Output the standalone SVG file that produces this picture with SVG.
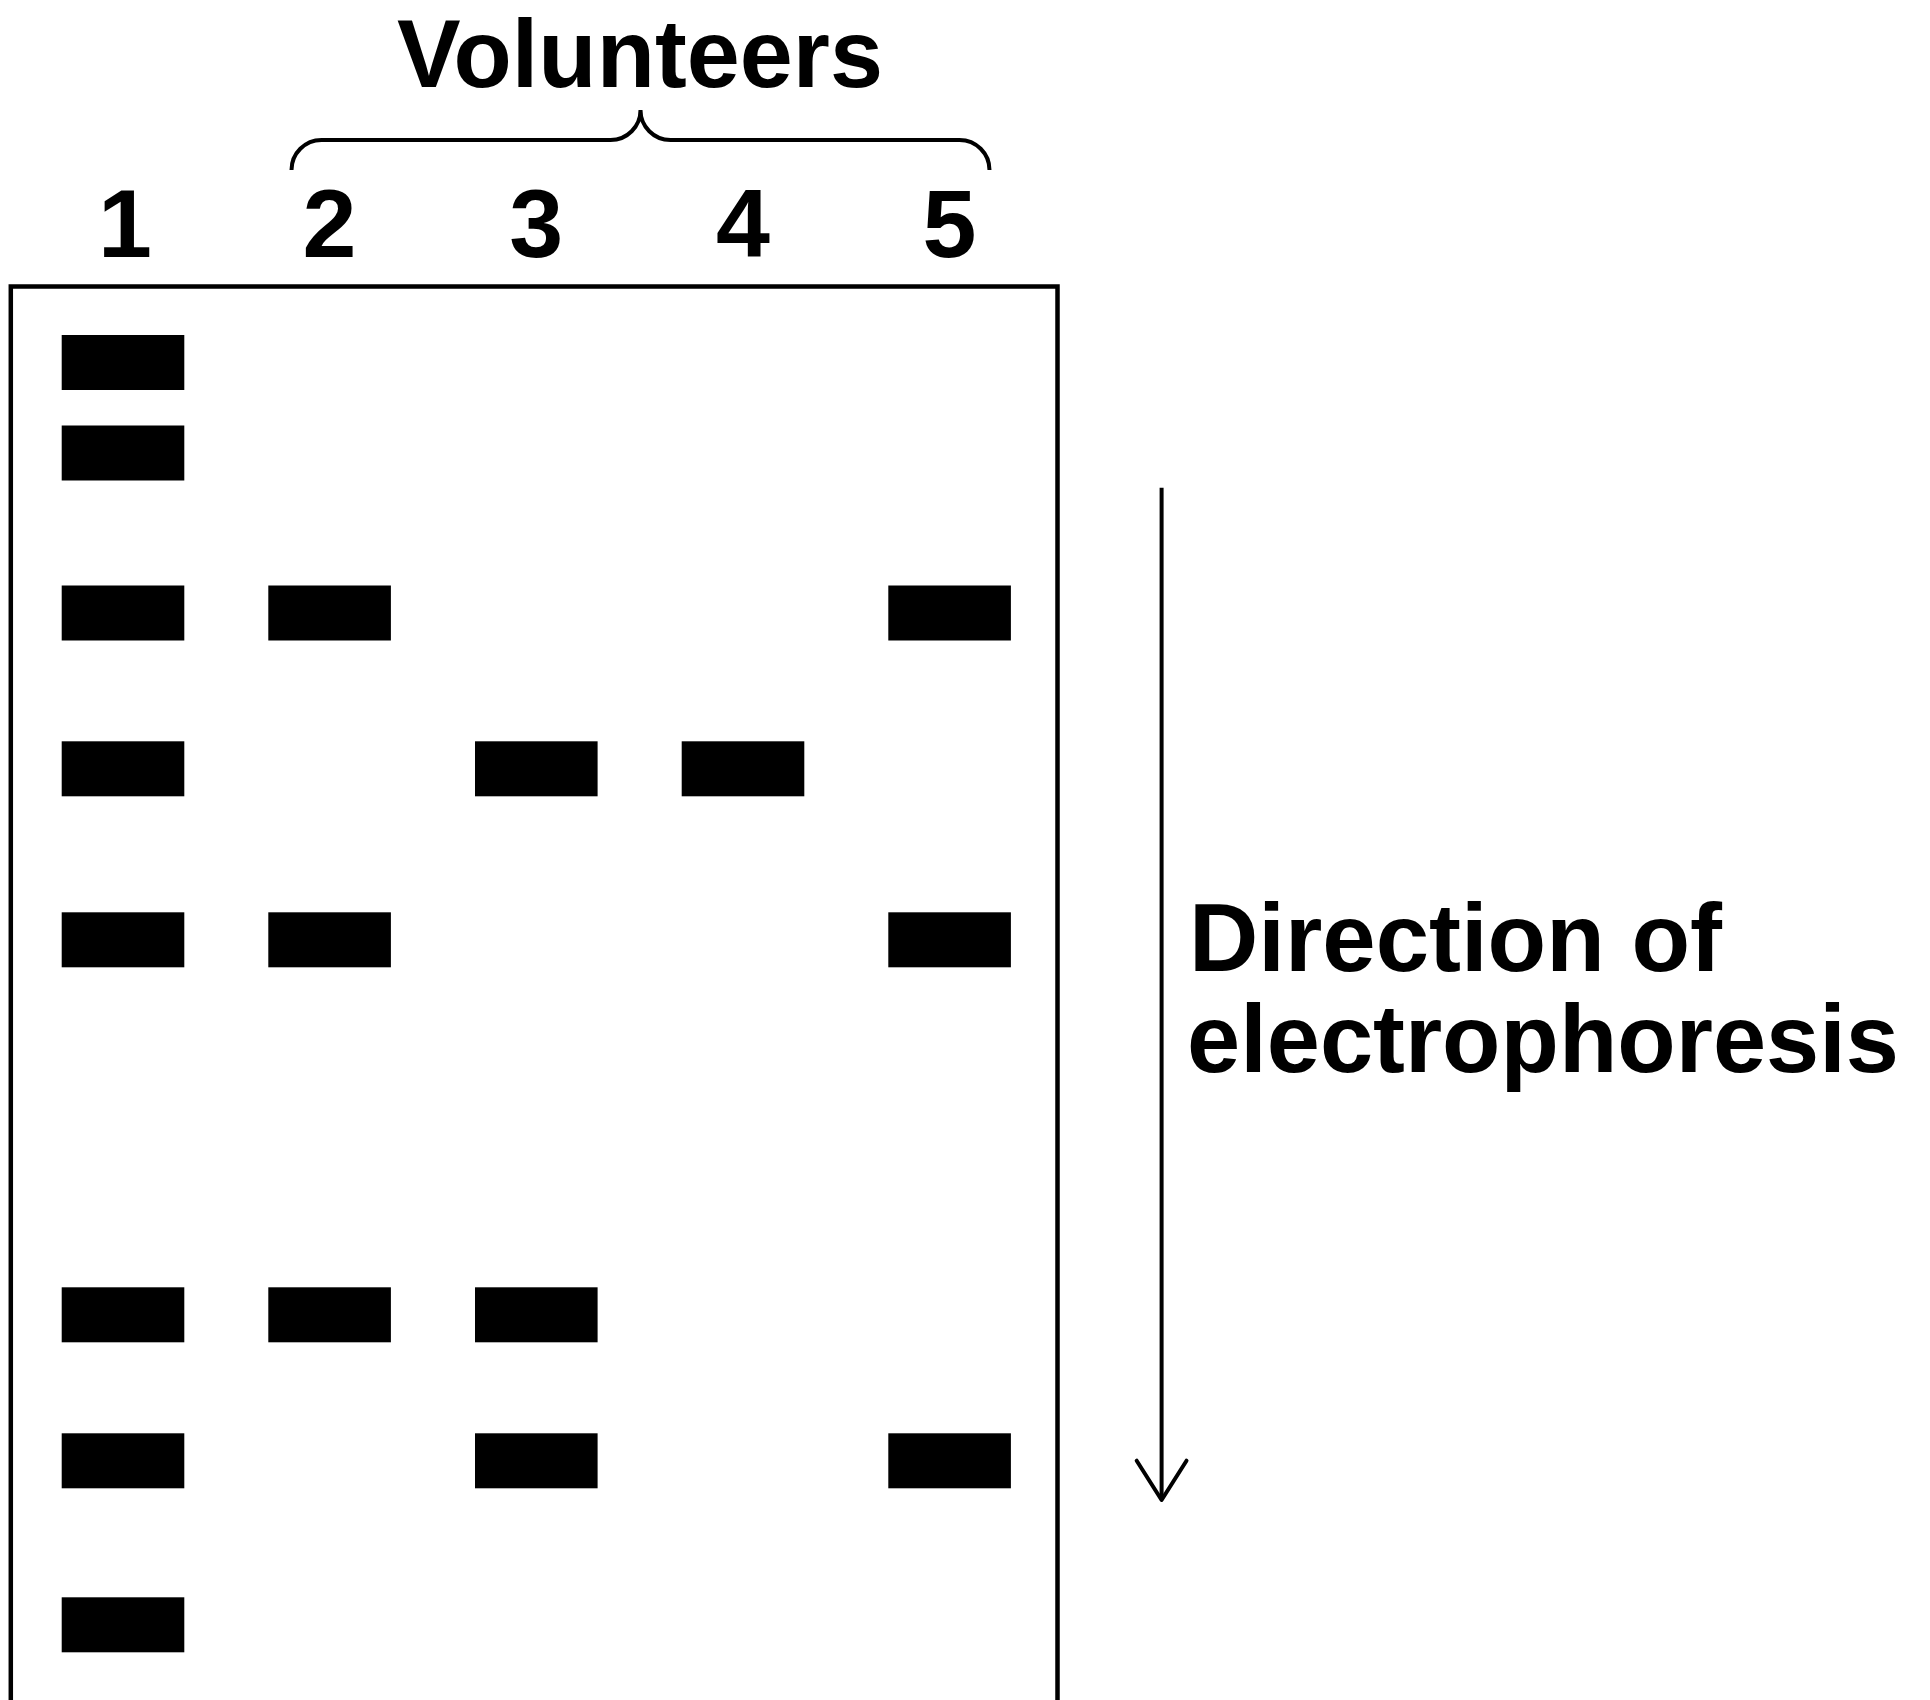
<svg xmlns="http://www.w3.org/2000/svg" width="1930" height="1700" viewBox="0 0 1930 1700">
  <style>
    .lbl { font-family: "Liberation Sans", Arial, Helvetica, sans-serif; font-weight: bold; font-size: 97px; fill: #000; }
    .band { fill: #000; }
    .ink { fill: none; stroke: #000; }
  </style>
  <rect x="0" y="0" width="1930" height="1700" fill="#fff"/>

  <!-- heading and bracket over lanes 2-5 -->
  <g id="volunteers">
    <text class="lbl" x="640" y="87.3" text-anchor="middle" textLength="486" lengthAdjust="spacingAndGlyphs">Volunteers</text>
    <path class="ink" stroke-width="4" d="M291.5,170 A30,30 0 0 1 321.5,140 H610.5 A30,30 0 0 0 640.5,110 A30,30 0 0 0 670.5,140 H959.5 A30,30 0 0 1 989.5,170"/>
  </g>

  <!-- lane numbers -->
  <g id="lane-labels">
    <text class="lbl" x="125" y="257.3" text-anchor="middle">1</text>
    <text class="lbl" x="329.6" y="257.3" text-anchor="middle">2</text>
    <text class="lbl" x="536.3" y="257.3" text-anchor="middle">3</text>
    <text class="lbl" x="743" y="257.3" text-anchor="middle">4</text>
    <text class="lbl" x="949.6" y="257.3" text-anchor="middle">5</text>
  </g>

  <!-- gel outline (open at the bottom edge) -->
  <g id="gel">
    <path class="ink" stroke-width="4.5" d="M10.8,1710 V286.5 H1057.5 V1710"/>
  </g>

  <!-- lane 1: reference ladder -->
  <g id="lane-1">
    <rect class="band" x="61.7" y="335" width="122.6" height="55"/>
    <rect class="band" x="61.7" y="425.5" width="122.6" height="55"/>
    <rect class="band" x="61.7" y="585.5" width="122.6" height="55"/>
    <rect class="band" x="61.7" y="741.3" width="122.6" height="55"/>
    <rect class="band" x="61.7" y="912.3" width="122.6" height="55"/>
    <rect class="band" x="61.7" y="1287.3" width="122.6" height="55"/>
    <rect class="band" x="61.7" y="1433.3" width="122.6" height="55"/>
    <rect class="band" x="61.7" y="1597.3" width="122.6" height="55"/>
  </g>

  <g id="lane-2">
    <rect class="band" x="268.3" y="585.5" width="122.6" height="55"/>
    <rect class="band" x="268.3" y="912.3" width="122.6" height="55"/>
    <rect class="band" x="268.3" y="1287.3" width="122.6" height="55"/>
  </g>

  <g id="lane-3">
    <rect class="band" x="475" y="741.3" width="122.6" height="55"/>
    <rect class="band" x="475" y="1287.3" width="122.6" height="55"/>
    <rect class="band" x="475" y="1433.3" width="122.6" height="55"/>
  </g>

  <g id="lane-4">
    <rect class="band" x="681.7" y="741.3" width="122.6" height="55"/>
  </g>

  <g id="lane-5">
    <rect class="band" x="888.3" y="585.5" width="122.6" height="55"/>
    <rect class="band" x="888.3" y="912.3" width="122.6" height="55"/>
    <rect class="band" x="888.3" y="1433.3" width="122.6" height="55"/>
  </g>

  <!-- migration direction arrow -->
  <g id="connectors">
    <line class="ink" stroke-width="4" x1="1161.6" y1="487.7" x2="1161.6" y2="1498"/>
    <polyline class="ink" stroke-width="4" stroke-linecap="round" stroke-linejoin="round" points="1136.7,1460.7 1161.6,1500 1186.5,1460.7"/>
  </g>

  <g id="direction-label">
    <text class="lbl" x="1189" y="970.8" textLength="533" lengthAdjust="spacingAndGlyphs">Direction of</text>
    <text class="lbl" x="1187" y="1072" textLength="712" lengthAdjust="spacingAndGlyphs">electrophoresis</text>
  </g>
</svg>
